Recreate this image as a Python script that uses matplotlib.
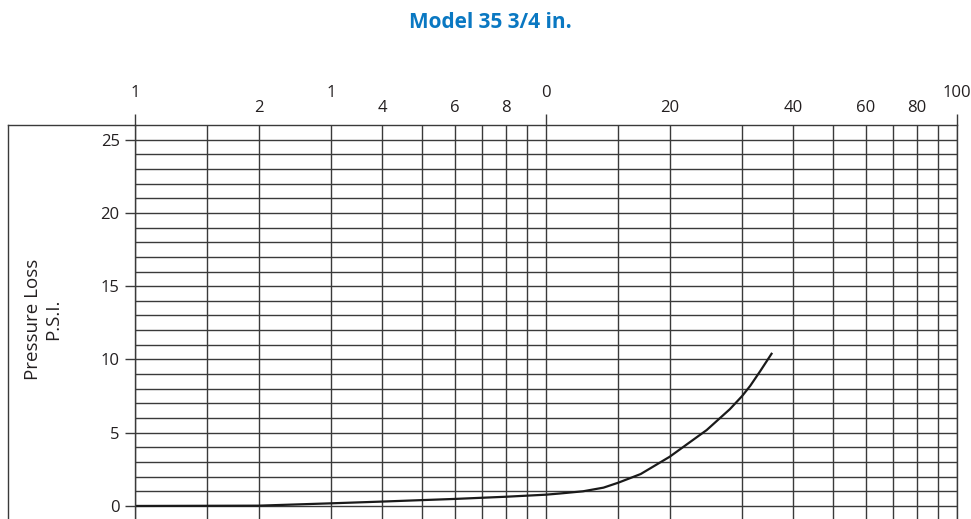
import numpy as np
import matplotlib
matplotlib.use("Agg")
import matplotlib.pyplot as plt
from matplotlib.lines import Line2D

plt.rcParams['font.family'] = ['Open Sans', 'DejaVu Sans']

# flow (log scale) vs pressure loss
flow = [1, 2, 3, 4, 5, 6, 8, 10, 10.8, 12.3, 13.8, 15, 17, 20, 24.6, 28, 30, 31.4, 33.2, 35.5]
psi = [0, 0.02, 0.18, 0.3, 0.4, 0.48, 0.63, 0.77, 0.85, 1.0, 1.25, 1.59, 2.18, 3.36, 5.18, 6.6, 7.5, 8.2, 9.2, 10.45]

# top tick labels (as printed on the original chart)
top_ticks = [1, 2, 3, 4, 6, 8, 10, 20, 40, 60, 80, 100]
top_labels = ['1', '2', '1', '4', '6', '8', '0', '20', '40', '60', '80', '100']
top_raised = [True, False, True, False, False, False, True, False, False, False, False, True]

grid_x = [1, 1.5, 2, 3, 4, 5, 6, 7, 8, 9, 10, 15, 20, 30, 40, 50, 60, 70, 80, 90, 100]
y_ticks = [0, 5, 10, 15, 20, 25]

W, H = 971, 519
fig = plt.figure(figsize=(W / 100, H / 100), dpi=100)
ax = fig.add_axes([135 / W, 0, (957 - 135) / W, 1 - 125 / H])

ax.set_xscale('log')
ax.set_xlim(1, 100)
ax.set_ylim(-0.89, 26)

gc = '#3a3a3a'
ax.set_xticks([1, 10, 100])
ax.set_xticks(grid_x, minor=True)
ax.set_yticks(y_ticks)
ax.set_yticks(np.arange(0, 26, 1), minor=True)
ax.grid(which='both', color=gc, linewidth=1.0)
ax.set_axisbelow(True)

ax.tick_params(axis='x', which='major', top=True, bottom=False, labeltop=False,
               labelbottom=False, direction='out', length=8, width=1, color=gc)
ax.tick_params(axis='x', which='minor', top=False, bottom=False,
               labeltop=False, labelbottom=False)
ax.tick_params(axis='y', which='major', left=True, length=7, width=1, color=gc,
               labelsize=12, labelcolor='#231f20', pad=4)
ax.tick_params(axis='y', which='minor', left=False)

ax.spines['bottom'].set_visible(False)
for s in ['top', 'left', 'right']:
    ax.spines[s].set_color(gc)
    ax.spines[s].set_linewidth(1.0)

for x, lab, up in zip(top_ticks, top_labels, top_raised):
    ax.annotate(lab, xy=(x, 1), xycoords=('data', 'axes fraction'),
                xytext=(0, 23 if up else 12), textcoords='offset points',
                ha='center', va='center', fontsize=12, color='#231f20')

ax.plot(flow, psi, color='#1a1a1a', linewidth=1.6, solid_joinstyle='round',
        solid_capstyle='butt')

# outer frame
fig.add_artist(Line2D([8 / W, 135 / W], [1 - 125 / H, 1 - 125 / H],
                      transform=fig.transFigure, color=gc, linewidth=1.0))
fig.add_artist(Line2D([8 / W, 8 / W], [0, 1 - 125 / H],
                      transform=fig.transFigure, color=gc, linewidth=1.0))

fig.text(43 / W, 1 - 319 / H, 'Pressure Loss\nP.S.I.', rotation=90,
         ha='center', va='center', multialignment='center',
         fontsize=13.5, color='#231f20', linespacing=1.1)

fig.text(490 / W, 1 - 23 / H, 'Model 35 3/4 in.', ha='center', va='center',
         fontsize=15, fontweight='bold', color='#0a78c2')

fig.savefig('out.png', dpi=100)
